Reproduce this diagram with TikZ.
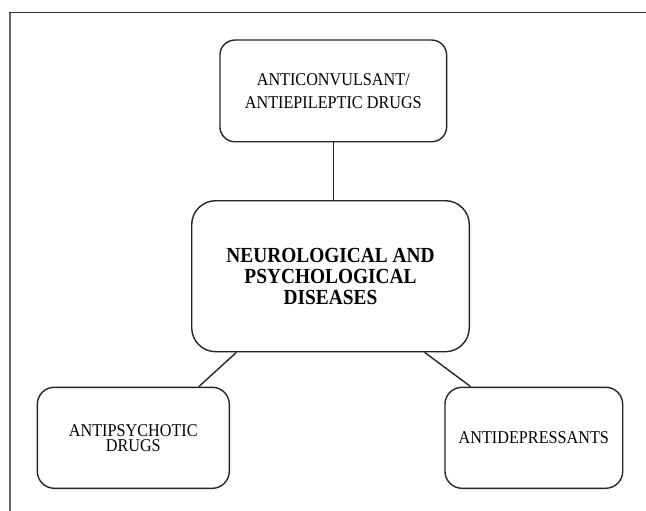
\documentclass[tikz,border=0pt]{standalone}
\usepackage{fontspec}
\setmainfont{Liberation Serif}[FakeStretch=0.9]
\usepackage{tikz}

\begin{document}
\begin{tikzpicture}[x=1pt, y=-1pt,
    drugbox/.style={draw=black!85, line width=1.4pt, rounded corners=15pt, align=center, inner sep=0pt},
    link/.style={draw=black!85, line width=1.4pt}]
    \useasboundingbox (0,0) rectangle (646,511);

    % Frame
    \draw[black!60, line width=1.8pt] (9.8,511) -- (9.8,12.7);
    \draw[black!80, line width=1.3pt] (8.9,12.7) -- (646,12.7);

    % Boxes
    \node[drugbox, minimum width=226.7pt, minimum height=101.7pt, font={\fontsize{18}{23.3}\selectfont}] (anticonv) at (333.3,90.9) {ANTICONVULSANT/\\ANTIEPILEPTIC DRUGS};
    \node[drugbox, rounded corners=24pt, minimum width=277.6pt, minimum height=151pt, font={\bfseries\fontsize{21.5}{21.2}\selectfont}] (neuro) at (330.5,276.2) {NEUROLOGICAL AND\\PSYCHOLOGICAL\\DISEASES};
    \node[drugbox, rounded corners=17pt, minimum width=192pt, minimum height=101pt, font={\fontsize{18}{15}\selectfont}] (antipsy) at (133.3,437.8) {ANTIPSYCHOTIC\\DRUGS};
    \node[drugbox, rounded corners=17pt, minimum width=177.7pt, minimum height=101pt, font={\fontsize{18}{15}\selectfont}] (antidep) at (533.85,437.8) {ANTIDEPRESSANTS};

    % Links
    \draw[link] (anticonv.south) -- (anticonv.south |- neuro.north);
    \draw[link] (neuro.219.3) -- (antipsy.38.5);
    \draw[link] (neuro.321.9) -- (antidep.141.65);
\end{tikzpicture}
\end{document}
